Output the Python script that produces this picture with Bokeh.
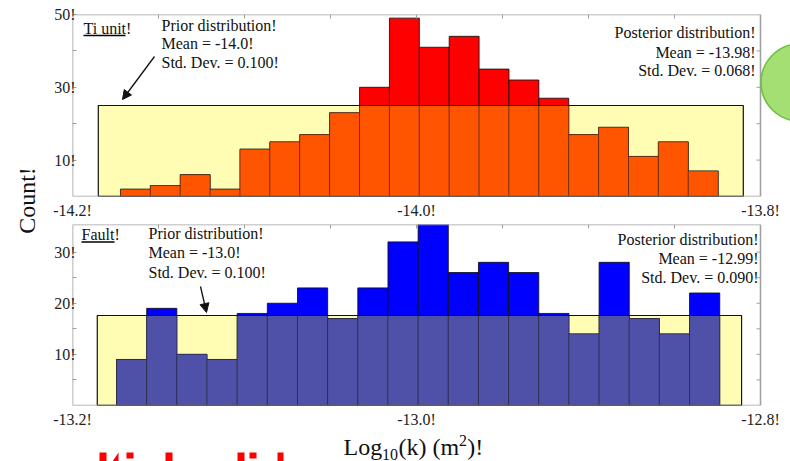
import numpy as np
from bokeh.plotting import figure
from bokeh.models import Label, Arrow, NormalHead, FixedTicker, LinearAxis, Range1d
from bokeh.core.properties import value
from bokeh.layouts import row, column
from bokeh.embed import file_html
from bokeh.resources import INLINE

# ---------------- data ----------------
ti_bin_start = -14.1721
ti_bin_width = 0.017374
ti_counts = [2, 3, 6, 2, 13, 15, 17, 23, 30, 49, 41, 44, 35, 32, 27, 17, 19, 11, 15, 7]
ti_prior_left, ti_prior_right, ti_prior_height = -14.185, -13.810, 25.0

fault_bin_start = -13.1744
fault_bin_width = 0.017535
fault_counts = [9, 19, 10, 9, 18, 20, 23, 17, 23, 32, 36, 26, 28, 26, 18, 14, 28, 17, 14, 22]
fault_prior_left, fault_prior_right, fault_prior_height = -13.1856, -12.811, 17.6

ti_xticks = [-14.2, -14.0, -13.8]
ti_xlabels = ["-14.2!", "-14.0!", "-13.8!"]
ti_xminor = [-14.15, -14.1, -14.05, -14.0, -13.95, -13.9, -13.85]
ti_ymax = 50
ti_yticks = [10, 30, 50]
ti_yminor = [20, 40]
ti_yright = [10, 20, 30, 40]

fault_xticks = [-13.2, -13.0, -12.8]
fault_xlabels = ["-13.2!", "-13.0!", "-12.8!"]
fault_xminor = [-13.15, -13.1, -13.05, -13.0, -12.95, -12.9, -12.85]
fault_ymax = 35.4
fault_yticks = [10, 20, 30]
fault_yminor = [5, 15, 25]
fault_yright = [5, 10, 15, 20, 25, 30]

SERIF = "Liberation Serif"
FW, FH = 688, 182          # drawn chart box of each panel in px
EXTRA = 30                 # the plotting frame runs 30 px further right, to the window edge
FRAME_L = 72               # window x of frame left edge
GRAY = "#a0a0a0"


def panel(xticks, ymax, height, btop, bbot, xlabels, yticks, yminor):
    x0, x1 = xticks[0], xticks[-1]
    per_px = (x1 - x0) / FW
    p = figure(width=745, height=height,
               x_range=Range1d(x0, x1 + EXTRA * per_px), y_range=Range1d(0, ymax),
               output_backend="svg", toolbar_location=None,
               min_border_left=27, min_border_right=0, min_border_top=btop,
               min_border_bottom=bbot, x_axis_location=None, y_axis_location=None)
    p.grid.visible = False
    p.outline_line_color = None
    p.background_fill_color = "white"
    p.border_fill_color = "white"

    bx = LinearAxis(ticker=FixedTicker(ticks=xticks),
                    major_label_overrides={t: l for t, l in zip(xticks, xlabels)})
    bx.axis_line_color = None
    bx.major_tick_in = 0
    bx.major_tick_out = 0
    bx.minor_tick_in = 0
    bx.minor_tick_out = 0
    bx.major_label_standoff = 5
    bx.major_label_text_font = SERIF
    bx.major_label_text_font_size = "16px"
    bx.major_label_text_color = "#222222"
    p.add_layout(bx, "below")

    ly = LinearAxis(ticker=FixedTicker(ticks=yticks, minor_ticks=yminor),
                    major_label_overrides={t: f"{t}!" for t in yticks})
    ly.axis_line_color = None
    ly.major_tick_in = 4
    ly.major_tick_out = 0
    ly.minor_tick_in = 4
    ly.minor_tick_out = 0
    ly.major_tick_line_color = GRAY
    ly.minor_tick_line_color = GRAY
    ly.major_label_standoff = -3
    ly.major_label_text_font = SERIF
    ly.major_label_text_font_size = "16px"
    ly.major_label_text_color = "#222222"
    p.add_layout(ly, "left")
    return p


def frame_and_ticks(p, xticks, ymax, xminor, yright):
    x0, x1 = xticks[0], xticks[-1]
    per_px_x = (x1 - x0) / FW
    per_px_y = ymax / FH
    p.quad(left=[x0], right=[x1], bottom=[0], top=[ymax], fill_color=None,
           line_color=GRAY, line_width=1.6)
    p.segment(x0=xminor, x1=xminor, y0=[ymax] * len(xminor),
              y1=[ymax - 4 * per_px_y] * len(xminor), line_color=GRAY, line_width=1)
    p.segment(x0=[x1] * len(yright), x1=[x1 - 4 * per_px_x] * len(yright),
              y0=yright, y1=yright, line_color=GRAY, line_width=1)


def hist(p, start, width, counts, prior_l, prior_r, prior_h, full_color, over_color):
    counts = np.array(counts, dtype=float)
    edges = start + width * np.arange(len(counts) + 1)
    p.quad(left=[prior_l], right=[prior_r], bottom=[0], top=[prior_h],
           fill_color="#FFFCB3", line_color=None)
    p.quad(left=edges[:-1], right=edges[1:], bottom=0, top=counts,
           fill_color=full_color, line_color="#111111", line_width=1, line_alpha=0.85)
    over = np.minimum(counts, prior_h)
    p.quad(left=edges[:-1], right=edges[1:], bottom=0, top=over,
           fill_color=over_color, line_color="#222222", line_width=1, line_alpha=0.45)
    p.quad(left=[prior_l], right=[prior_r], bottom=[0], top=[prior_h],
           fill_color=None, line_color="#111111", line_width=1.2)
    p.segment(x0=[prior_l], x1=[prior_r], y0=[0], y1=[0], line_color="#000000", line_width=1.6)


def txt(p, fb, X, Y, s, align="left", size="16px", color="#111111"):
    """Label centred vertically at window pixel (X, Y); fb = window y of the frame bottom."""
    p.add_layout(Label(x=X - FRAME_L, y=fb - Y, x_units="screen", y_units="screen", text=s,
                       text_font=SERIF, text_font_size=size, text_align=align,
                       text_baseline="middle", text_color=color))


def underline(p, xticks, ymax, fb, X0, X1, Y):
    x0, x1 = xticks[0], xticks[-1]
    fx = lambda X: x0 + (X - FRAME_L) / FW * (x1 - x0)
    fy = lambda Y: (fb - Y) / FH * ymax
    p.segment(x0=[fx(X0)], x1=[fx(X1)], y0=[fy(Y)], y1=[fy(Y)],
              line_color="#000000", line_width=1.5)


# ---------------- top panel (frame window y 14..196) ----------------
FB1 = 196
p1 = panel(ti_xticks, ti_ymax, 222, 14, 26, ti_xlabels, ti_yticks, ti_yminor)
hist(p1, ti_bin_start, ti_bin_width, ti_counts, ti_prior_left, ti_prior_right,
     ti_prior_height, "#FF0000", "#FF5500")
frame_and_ticks(p1, ti_xticks, ti_ymax, ti_xminor, ti_yright)
txt(p1, FB1, 83, 28, "Ti unit!")
underline(p1, ti_xticks, ti_ymax, FB1, 83, 125, 35)
txt(p1, FB1, 161, 25, "Prior distribution!")
txt(p1, FB1, 161, 43, "Mean = -14.0!")
txt(p1, FB1, 161, 62, "Std. Dev. = 0.100!")
txt(p1, FB1, 755, 32, "Posterior distribution!", align="right")
txt(p1, FB1, 755, 52, "Mean = -13.98!", align="right")
txt(p1, FB1, 755, 70, "Std. Dev. = 0.068!", align="right")
p1.add_layout(Arrow(x_start=154 - FRAME_L, y_start=FB1 - 56, x_end=122 - FRAME_L, y_end=FB1 - 99,
                    start_units="screen", end_units="screen",
                    line_color="#111111", line_width=1.3,
                    end=NormalHead(size=9, fill_color="#111111", line_color="#111111")))
# green rounded button partly visible at the right edge
button_x = ti_xticks[0] + (799 - FRAME_L) / FW * (ti_xticks[-1] - ti_xticks[0])
button_y = (FB1 - 82) / FH * ti_ymax
p1.scatter(x=[button_x], y=[button_y], marker="circle", size=77,
           fill_color="#a3df73", line_color="#6cbf3f", line_width=1.5)

# ---------------- bottom panel (frame window y 224..406) ----------------
FB2 = 406
p2 = panel(fault_xticks, fault_ymax, 208, 2, 24, fault_xlabels, fault_yticks, fault_yminor)
hist(p2, fault_bin_start, fault_bin_width, fault_counts, fault_prior_left, fault_prior_right,
     fault_prior_height, "#0000FF", "#4F50A8")
frame_and_ticks(p2, fault_xticks, fault_ymax, fault_xminor, fault_yright)
txt(p2, FB2, 81, 234.6, "Fault!")
underline(p2, fault_xticks, fault_ymax, FB2, 81, 114, 241.5)
txt(p2, FB2, 148, 234, "Prior distribution!")
txt(p2, FB2, 148, 253, "Mean = -13.0!")
txt(p2, FB2, 148, 273, "Std. Dev. = 0.100!")
txt(p2, FB2, 758, 240, "Posterior distribution!", align="right")
txt(p2, FB2, 758, 259, "Mean = -12.99!", align="right")
txt(p2, FB2, 758, 278, "Std. Dev. = 0.090!", align="right")
p2.add_layout(Arrow(x_start=200 - FRAME_L, y_start=FB2 - 287, x_end=206 - FRAME_L, y_end=FB2 - 313,
                    start_units="screen", end_units="screen",
                    line_color="#111111", line_width=1.3,
                    end=NormalHead(size=9, fill_color="#111111", line_color="#111111")))

# ---------------- bottom strip: x title (window coords, y down) ----------------
bot = figure(width=745, height=31, x_range=Range1d(72, 790), y_range=Range1d(461, 430),
             output_backend="svg", toolbar_location=None, min_border=0,
             min_border_left=27, min_border_right=0,
             x_axis_location=None, y_axis_location=None)
bot.grid.visible = False
bot.outline_line_color = None
title_parts = ["Log", "10", "(k) (m", "2", ")!"]
title_x = [343, 381.5, 398, 458.6, 466.8]
title_y = [446, 453.6, 446, 439.6, 446]
title_size = ["24px", "16px", "24px", "16px", "24px"]
bot.text(x=title_x, y=title_y, text=title_parts, text_font=value(SERIF),
         text_font_size=title_size, text_align="left", text_baseline="middle",
         text_color="#111111")
# red fragments of a cut-off line of text below the chart
frag_left = [99, 165, 237, 277, 126, 249]
frag_right = [106, 172, 244, 283, 133, 256]
frag_top = [452, 452, 452, 452, 452, 452]
frag_bottom = [461, 461, 461, 461, 458, 458]
bot.quad(left=frag_left, right=frag_right, top=frag_top, bottom=frag_bottom,
         fill_color="#ff0000", line_color=None)
bot.patch(x=[112, 118, 118], y=[461, 452, 461], fill_color="#ff0000", line_color=None)

col = column(p1, p2, bot, spacing=0)

# ---------------- left strip with y title ----------------
strip = figure(width=45, height=461, x_range=Range1d(0, 45), y_range=Range1d(461, 0),
               output_backend="svg", toolbar_location=None,
               min_border=0, x_axis_location=None, y_axis_location=None)
strip.grid.visible = False
strip.outline_line_color = None
strip.text(x=[26], y=[200], text=["Count!"], angle=np.pi / 2, text_font=value(SERIF),
           text_font_size="24px", text_align="center", text_baseline="middle",
           text_color="#111111")

layout = row(strip, col, spacing=0)
open("out.html", "w").write(file_html(layout, INLINE))
